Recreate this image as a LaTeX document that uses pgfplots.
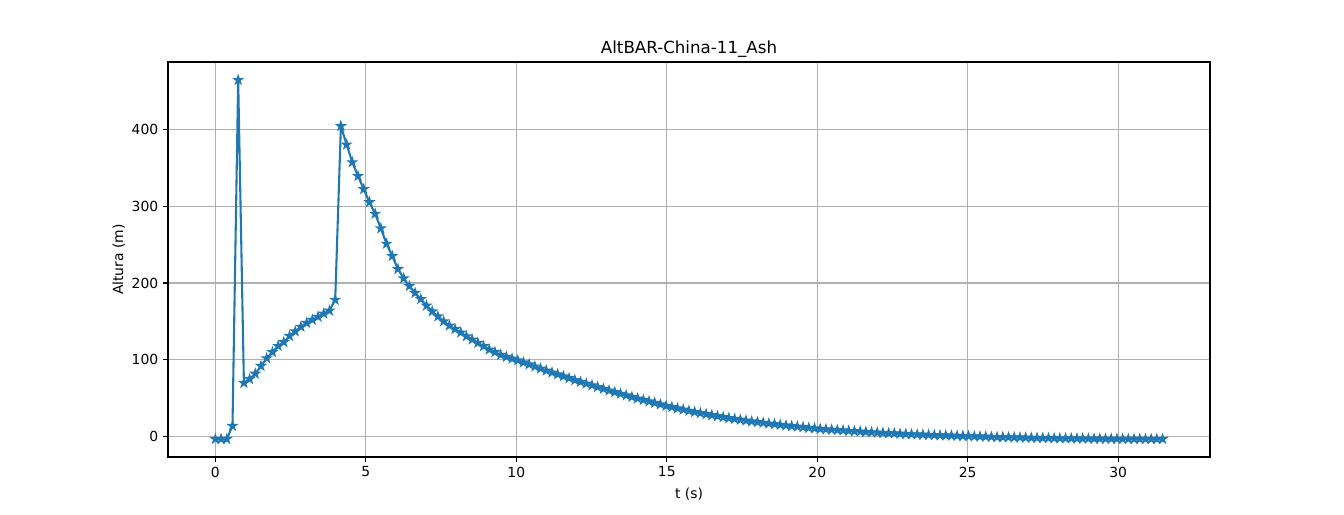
\documentclass[border=0pt]{standalone}
\usepackage{fontspec}
\setmainfont{DejaVu Sans}
\usepackage{pgfplots}
\pgfplotsset{compat=1.18}
\definecolor{mplblue}{HTML}{1F77B4}
\definecolor{mplgrid}{HTML}{B0B0B0}
\pgfdeclareplotmark{mstar}{%
  \pgfpathmoveto{\pgfpointpolar{90}{\pgfplotmarksize}}%
  \pgfpathlineto{\pgfpointpolar{126}{0.382\pgfplotmarksize}}%
  \pgfpathlineto{\pgfpointpolar{162}{\pgfplotmarksize}}%
  \pgfpathlineto{\pgfpointpolar{198}{0.382\pgfplotmarksize}}%
  \pgfpathlineto{\pgfpointpolar{234}{\pgfplotmarksize}}%
  \pgfpathlineto{\pgfpointpolar{270}{0.382\pgfplotmarksize}}%
  \pgfpathlineto{\pgfpointpolar{306}{\pgfplotmarksize}}%
  \pgfpathlineto{\pgfpointpolar{342}{0.382\pgfplotmarksize}}%
  \pgfpathlineto{\pgfpointpolar{18}{\pgfplotmarksize}}%
  \pgfpathlineto{\pgfpointpolar{54}{0.382\pgfplotmarksize}}%
  \pgfpathclose
  \pgfusepathqfillstroke
}
\begin{document}
\begin{tikzpicture}
\path[use as bounding box] (-120.96pt,-41.04pt) rectangle (846.72pt,329.04pt);
\begin{axis}[
  at={(0pt,0pt)}, anchor=south west,
  scale only axis, width=750.24pt, height=284.4pt,
  xmin=-1.574, xmax=33.05, ymin=-26.4, ymax=487.4,
  xtick={0,5,10,15,20,25,30}, ytick={0,100,200,300,400},
  grid=major, major grid style={mplgrid, line width=0.8pt},
  axis line style={black, line width=0.8pt},
  tick align=outside, major tick length=3.5pt,
  tick style={black, line width=0.8pt},
  xtick pos=bottom, ytick pos=left,
  /pgf/number format/assume math mode=true,
  ticklabel style={font=\fontsize{10}{12}\selectfont},
  title={AltBAR-China-11\_Ash},
  title style={font=\fontsize{12}{14}\selectfont, yshift=-6pt},
  xlabel={t (s)}, ylabel={Altura (m)},
  label style={font=\fontsize{10}{12}\selectfont},
  xlabel style={yshift=-1pt},
  ylabel style={yshift=-2pt},
]
\addplot[mplblue, line width=1.5pt, mark=mstar, mark size=3pt, mark options={line width=1pt, fill=mplblue, draw=mplblue}] coordinates {
(0.000,-3) (0.190,-3) (0.379,-3) (0.569,14) (0.758,464) (0.948,70) (1.138,75) (1.327,82) (1.517,92) (1.706,102)
(1.896,110) (2.086,118) (2.275,123) (2.465,131) (2.654,137) (2.844,143) (3.034,148) (3.223,152) (3.413,156) (3.602,160)
(3.792,164) (3.982,178) (4.171,404) (4.361,380) (4.550,357) (4.740,339) (4.930,322) (5.119,305) (5.309,290) (5.498,271)
(5.688,251) (5.878,235) (6.067,218) (6.257,206) (6.446,196) (6.636,187) (6.826,179) (7.015,170.5) (7.205,163) (7.394,156.5)
(7.584,150) (7.774,144.5) (7.963,140) (8.153,135.5) (8.342,130.6) (8.532,126.4) (8.722,122) (8.911,117.7) (9.101,113.4) (9.290,110)
(9.480,106.5) (9.670,103.8) (9.859,101.5) (10.049,99.3) (10.238,96.6) (10.428,94.0) (10.618,91.3) (10.807,88.7) (10.997,86.0) (11.186,83.5)
(11.376,81.1) (11.566,78.6) (11.755,76.1) (11.945,73.6) (12.134,71.3) (12.324,69.1) (12.514,66.9) (12.703,64.6) (12.893,62.3) (13.082,60.1)
(13.272,58.0) (13.462,55.9) (13.651,53.8) (13.841,51.7) (14.030,49.7) (14.220,47.8) (14.410,45.9) (14.599,44.0) (14.789,42.1) (14.978,40.2)
(15.168,38.5) (15.358,36.9) (15.547,35.3) (15.737,33.7) (15.926,32.1) (16.116,30.7) (16.306,29.3) (16.495,28.0) (16.685,26.7) (16.874,25.4)
(17.064,24.2) (17.254,23.1) (17.443,22.1) (17.633,21.0) (17.822,20.0) (18.012,19.0) (18.202,18.1) (18.391,17.2) (18.581,16.4) (18.770,15.5)
(18.960,14.7) (19.150,13.9) (19.339,13.1) (19.529,12.4) (19.718,11.6) (19.908,10.9) (20.098,10.2) (20.287,9.7) (20.477,9.2) (20.666,8.7)
(20.856,8.2) (21.046,7.7) (21.235,7.2) (21.425,6.7) (21.614,6.3) (21.804,5.8) (21.994,5.3) (22.183,5.0) (22.373,4.6) (22.562,4.3)
(22.752,3.9) (22.942,3.5) (23.131,3.2) (23.321,2.9) (23.510,2.7) (23.700,2.4) (23.890,2.1) (24.079,1.9) (24.269,1.7) (24.458,1.4)
(24.648,1.2) (24.838,1.0) (25.027,0.8) (25.217,0.5) (25.406,0.3) (25.596,0.1) (25.786,-0.2) (25.975,-0.4) (26.165,-0.6) (26.354,-0.7)
(26.544,-0.9) (26.734,-1.0) (26.923,-1.2) (27.113,-1.4) (27.302,-1.5) (27.492,-1.6) (27.682,-1.8) (27.871,-1.9) (28.061,-2.0) (28.250,-2.1)
(28.440,-2.2) (28.630,-2.3) (28.819,-2.4) (29.009,-2.5) (29.198,-2.6) (29.388,-2.6) (29.578,-2.7) (29.767,-2.7) (29.957,-2.8) (30.146,-2.8)
(30.336,-2.9) (30.526,-2.9) (30.715,-2.9) (30.905,-3.0) (31.094,-3.0) (31.284,-3.0) (31.474,-3.0)
};
\end{axis}
\end{tikzpicture}
\end{document}
